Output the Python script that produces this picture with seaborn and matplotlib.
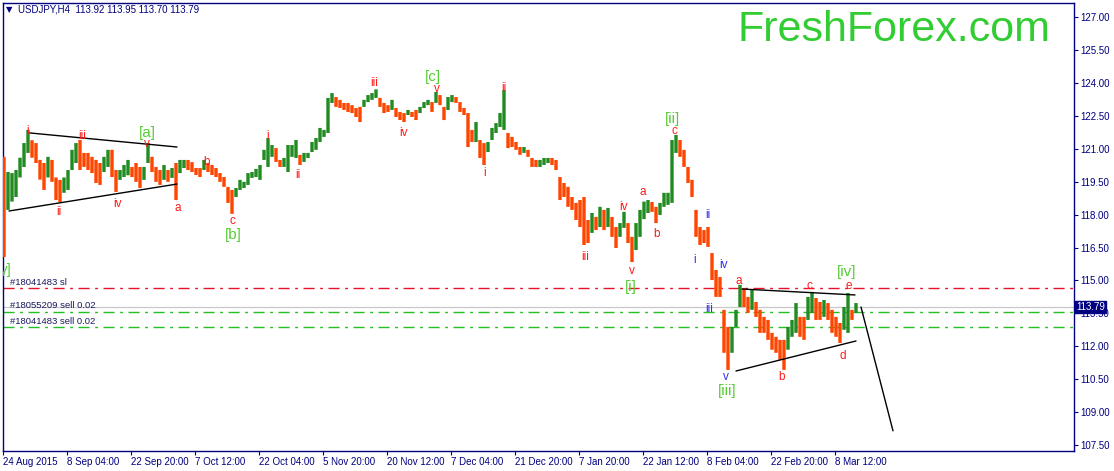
import numpy as np
import matplotlib
matplotlib.use("Agg")
import matplotlib.pyplot as plt
import matplotlib.transforms as mtransforms
import seaborn as sns

# USDJPY H4, one column every 4 bars (high / low of the column)
highs = [
    120.64, 119.95, 119.90, 120.04, 120.60, 121.27, 121.87, 121.40, 121.27, 120.50,
    120.36, 120.64, 120.50, 119.70, 119.59, 119.70, 120.04, 120.96, 121.27, 121.41,
    120.82, 120.82, 120.64, 120.50, 120.36, 120.64, 120.96, 120.96, 120.04, 120.04,
    120.27, 120.50, 120.18, 120.36, 120.18, 120.18, 121.27, 120.64, 120.18, 120.04,
    120.27, 120.04, 120.13, 120.36, 120.50, 120.50, 120.50, 120.40, 120.13, 120.13,
    120.50, 120.36, 120.27, 120.13, 119.90, 119.72, 119.27, 119.13, 119.22, 119.59,
    119.50, 119.90, 119.95, 120.09, 120.27, 120.96, 121.50, 121.18, 121.04, 120.50,
    120.59, 121.18, 121.18, 121.41, 120.73, 120.82, 120.82, 121.32, 121.50, 121.96,
    121.87, 123.33, 123.55, 123.37, 123.24, 123.10, 123.10, 123.00, 122.87, 122.92,
    123.24, 123.46, 123.55, 123.72, 123.33, 123.10, 123.00, 123.24, 122.87, 122.69,
    122.64, 122.78, 122.69, 122.78, 122.92, 123.14, 123.24, 123.14, 123.60, 123.46,
    122.92, 123.37, 123.46, 123.37, 123.14, 122.87, 122.64, 121.87, 122.23, 121.41,
    121.27, 121.32, 121.96, 122.18, 122.64, 123.69, 121.73, 121.55, 121.32, 121.09,
    121.09, 120.96, 120.59, 120.50, 120.50, 120.59, 120.59, 120.59, 120.50, 119.72,
    119.45, 119.27, 118.81, 118.54, 118.67, 118.81, 117.76, 118.08, 117.90, 118.36,
    118.22, 118.31, 117.90, 117.44, 117.62, 118.13, 117.62, 116.99, 117.62, 118.22,
    118.60, 118.67, 118.58, 118.36, 118.54, 119.00, 119.00, 121.41, 121.64, 121.41,
    120.96, 120.18, 119.59, 118.22, 117.44, 117.30, 117.44, 116.25, 115.48, 115.16,
    113.66, 112.88, 112.88, 113.66, 114.80, 114.66, 114.25, 114.57, 114.02, 113.66,
    113.34, 113.20, 112.61, 112.43, 112.29, 112.29, 112.88, 113.20, 113.97, 113.34,
    113.34, 114.25, 114.48, 114.20, 114.02, 114.11, 113.97, 113.66, 113.34, 113.06,
    113.79, 114.43, 113.66, 113.97,
]
lows = [
    116.07, 118.22, 118.60, 118.81, 119.70, 120.18, 120.82, 120.60, 120.36, 119.60,
    119.13, 119.70, 119.50, 118.67, 118.58, 119.00, 119.13, 120.04, 120.36, 120.04,
    120.18, 120.04, 119.90, 119.45, 119.36, 119.95, 120.18, 119.72, 119.04, 119.59,
    119.72, 119.80, 119.72, 119.50, 119.22, 119.59, 120.36, 119.95, 119.50, 119.36,
    119.59, 119.50, 119.68, 118.67, 119.90, 120.13, 120.04, 119.95, 119.81, 119.72,
    120.04, 119.95, 119.81, 119.72, 119.50, 119.27, 118.54, 118.04, 118.81, 119.13,
    119.22, 119.36, 119.68, 119.72, 119.59, 120.50, 120.18, 120.64, 120.41, 120.18,
    120.18, 119.95, 120.64, 120.59, 120.27, 120.41, 120.59, 120.86, 120.96, 121.32,
    121.55, 121.73, 123.10, 122.92, 122.87, 122.78, 122.69, 122.64, 122.46, 122.23,
    122.92, 123.14, 123.24, 123.33, 122.92, 122.64, 122.69, 122.78, 122.46, 122.32,
    122.23, 122.55, 122.46, 122.32, 122.64, 122.87, 123.00, 122.69, 123.10, 123.00,
    122.32, 122.78, 123.14, 123.10, 122.69, 122.55, 121.09, 121.32, 121.32, 120.59,
    120.27, 120.86, 121.41, 121.73, 122.00, 121.87, 121.04, 121.09, 120.96, 120.73,
    120.82, 120.64, 120.18, 120.18, 120.18, 120.27, 120.36, 120.27, 120.04, 118.67,
    118.81, 118.36, 118.22, 117.76, 117.44, 116.62, 116.71, 117.17, 117.30, 117.44,
    117.30, 117.44, 116.99, 116.48, 116.99, 117.40, 116.71, 115.84, 116.39, 116.99,
    117.80, 118.08, 118.13, 117.62, 117.99, 118.36, 118.45, 118.54, 120.82, 120.64,
    120.18, 119.45, 118.81, 116.99, 116.62, 116.71, 116.53, 115.02, 114.25, 114.25,
    111.70, 110.92, 111.70, 112.88, 113.79, 113.79, 113.52, 113.66, 113.34, 112.61,
    112.61, 112.29, 111.84, 111.70, 111.38, 110.92, 111.84, 112.43, 112.61, 112.43,
    112.29, 113.20, 113.52, 113.20, 113.20, 113.34, 113.20, 112.61, 112.43, 112.15,
    112.75, 112.61, 113.20, 113.52,
]
bar_step = 4
first_bar = 1

date_labels = [
    "24 Aug 2015", "8 Sep 04:00", "22 Sep 20:00", "7 Oct 12:00", "22 Oct 04:00",
    "5 Nov 20:00", "20 Nov 12:00", "7 Dec 04:00", "21 Dec 20:00", "7 Jan 20:00",
    "22 Jan 12:00", "8 Feb 04:00", "22 Feb 20:00", "8 Mar 12:00",
]
date_step = 64
price_ticks = [107.50, 109.00, 110.50, 112.00, 113.50, 115.00, 116.50,
               118.00, 119.50, 121.00, 122.50, 124.00, 125.50, 127.00]

bid = 113.79
sl_level = 114.65
sell_levels = [113.57, 112.87]
order_texts = ["#18041483 sl", "#18055209 sell 0.02", "#18041483 sell 0.02"]
order_text_prices = [114.89, 113.84, 113.15]

# wave labels: (bar, price, text)
red_waves = [
    (25, 121.82, "i"), (56, 118.13, "ii"), (79, 121.59, "iii"), (114, 118.49, "iv"),
    (144, 121.23, "v"), (175, 118.31, "a"), (204, 120.41, "b"), (229, 117.72, "c"),
    (265, 121.59, "i"), (295, 119.81, "ii"), (371, 124.01, "iii"), (400, 121.73, "iv"),
    (434, 123.74, "v"), (482, 119.91, "i"), (501, 123.78, "ii"), (582, 116.07, "iii"),
    (620, 118.35, "iv"), (629, 115.44, "v"), (640, 119.04, "a"), (654, 117.12, "b"),
    (671, 121.80, "c"), (736, 114.98, "a"), (779, 110.60, "b"), (806, 114.75, "c"),
    (840, 111.56, "d"), (846, 114.75, "e"),
]
blue_waves = [
    (692, 115.94, "i"), (705, 117.99, "ii"), (706, 113.70, "iii"),
    (720, 115.71, "iv"), (723, 110.60, "v"),
]
green_waves = [
    (144, 121.73, "[a]"), (230, 117.06, "[b]"), (430, 124.29, "[c]"),
    (628, 114.71, "[i]"), (670, 122.36, "[ii]"), (724, 109.96, "[iii]"),
    (844, 115.39, "[iv]"),
]

# trend lines: ((bar0, bar1), (price0, price1))
trend_lines = [
    ((27, 174), (121.73, 121.09)),
    ((6, 174), (118.17, 119.40)),
    ((739, 852), (114.61, 114.34)),
    ((733, 853), (110.87, 112.24)),
    ((858, 890), (113.79, 108.14)),
]

navy = "#000080"
up_color = "#228B22"
down_color = "#FF4500"

sns.set_theme(style="white")
plt.rcParams["font.family"] = ["Liberation Sans", "DejaVu Sans"]

fig = plt.figure(figsize=(11.14, 4.71), dpi=100)
fig.patch.set_facecolor("white")
ax = fig.add_axes([3 / 1114, 20 / 471, 1071 / 1114, 448 / 471])
ax.set_facecolor("white")

hi = np.array(highs)
lo = np.array(lows)
xs = first_bar + bar_step * np.arange(len(hi))
mid = (hi + lo) / 2
colors = [down_color] + [up_color if mid[i] >= mid[i - 1] else down_color
                         for i in range(1, len(mid))]
bars = ax.bar(xs, hi - lo, bottom=lo, width=3.4, color=colors, linewidth=0, zorder=3)
for b in bars:
    b.set_snap(False)

# order and bid lines
ax.axhline(bid, color="#C8C8C8", lw=0.9, zorder=1)
ax.axhline(sl_level, color="#E8112D", lw=1.0, ls=(0, (8, 4, 2, 4)), zorder=2)
for lvl in sell_levels:
    ax.axhline(lvl, color="#22C022", lw=1.0, ls=(0, (8, 4, 2, 4)), zorder=2)
for txt, p in zip(order_texts, order_text_prices):
    ax.text(7, p, txt, fontsize=6.8, color="#1A1A60", ha="left", va="center")

for (x0, x1), (p0, p1) in trend_lines:
    sns.lineplot(x=[x0, x1], y=[p0, p1], color="black", lw=1.0, ax=ax, zorder=4)

for x, p, t in red_waves:
    ax.text(x, p, t, color="#FF1A1A", fontsize=8.5, ha="center", va="center", zorder=5)
for x, p, t in blue_waves:
    ax.text(x, p, t, color="#3030F0", fontsize=8.5, ha="center", va="center", zorder=5)
for x, p, t in green_waves:
    ax.text(x, p, t, color="#55CC33", fontsize=11, ha="center", va="center", zorder=5)
ax.text(-3, 115.48, "y]", color="#55CC33", fontsize=11, ha="left", va="center",
        clip_on=True, zorder=5)

ax.set_xlim(0, 1071)
ax.set_ylim(107.22, 127.66)

ax.yaxis.tick_right()
ax.set_yticks(price_ticks)
ax.set_yticklabels([f"{v:.2f}" for v in price_ticks])
ax.tick_params(axis="y", right=True, left=False, direction="out", length=3,
               width=0.8, color=navy, labelcolor=navy, labelsize=7, pad=1.5)

date_pos = [date_step * k for k in range(len(date_labels))]
ax.set_xticks(date_pos)
ax.set_xticklabels(date_labels)
for lab in ax.get_xticklabels():
    lab.set_horizontalalignment("left")
ax.tick_params(axis="x", bottom=True, direction="out", length=3, width=0.8,
               color=navy, labelcolor=navy, labelsize=7, pad=1.5)

for s in ax.spines.values():
    s.set_color(navy)
    s.set_linewidth(1.0)
    s.set_visible(True)
ax.grid(False)
ax.set_xlabel("")
ax.set_ylabel("")

# current price box on the right axis
trans = mtransforms.blended_transform_factory(ax.transAxes, ax.transData)
ax.text(1.002, bid, f"{bid:.2f}", transform=trans, ha="left", va="center",
        fontsize=7, color="white", clip_on=False, zorder=10,
        bbox=dict(boxstyle="square,pad=0.12", fc=navy, ec=navy))

# header and watermark
fig.text(9 / 1114, 1 - 10 / 471, "\u25bc", fontsize=6, color=navy,
         family="DejaVu Sans", ha="center", va="center")
fig.text(18 / 1114, 1 - 10 / 471, "USDJPY,H4  113.92 113.95 113.70 113.79",
         fontsize=7, color=navy, ha="left", va="center")
fig.text(894 / 1114, 1 - 30 / 471, "FreshForex.com", fontsize=31,
         color="#32CD32", ha="center", va="center")

fig.savefig("out.png", dpi=100)
plt.close(fig)
